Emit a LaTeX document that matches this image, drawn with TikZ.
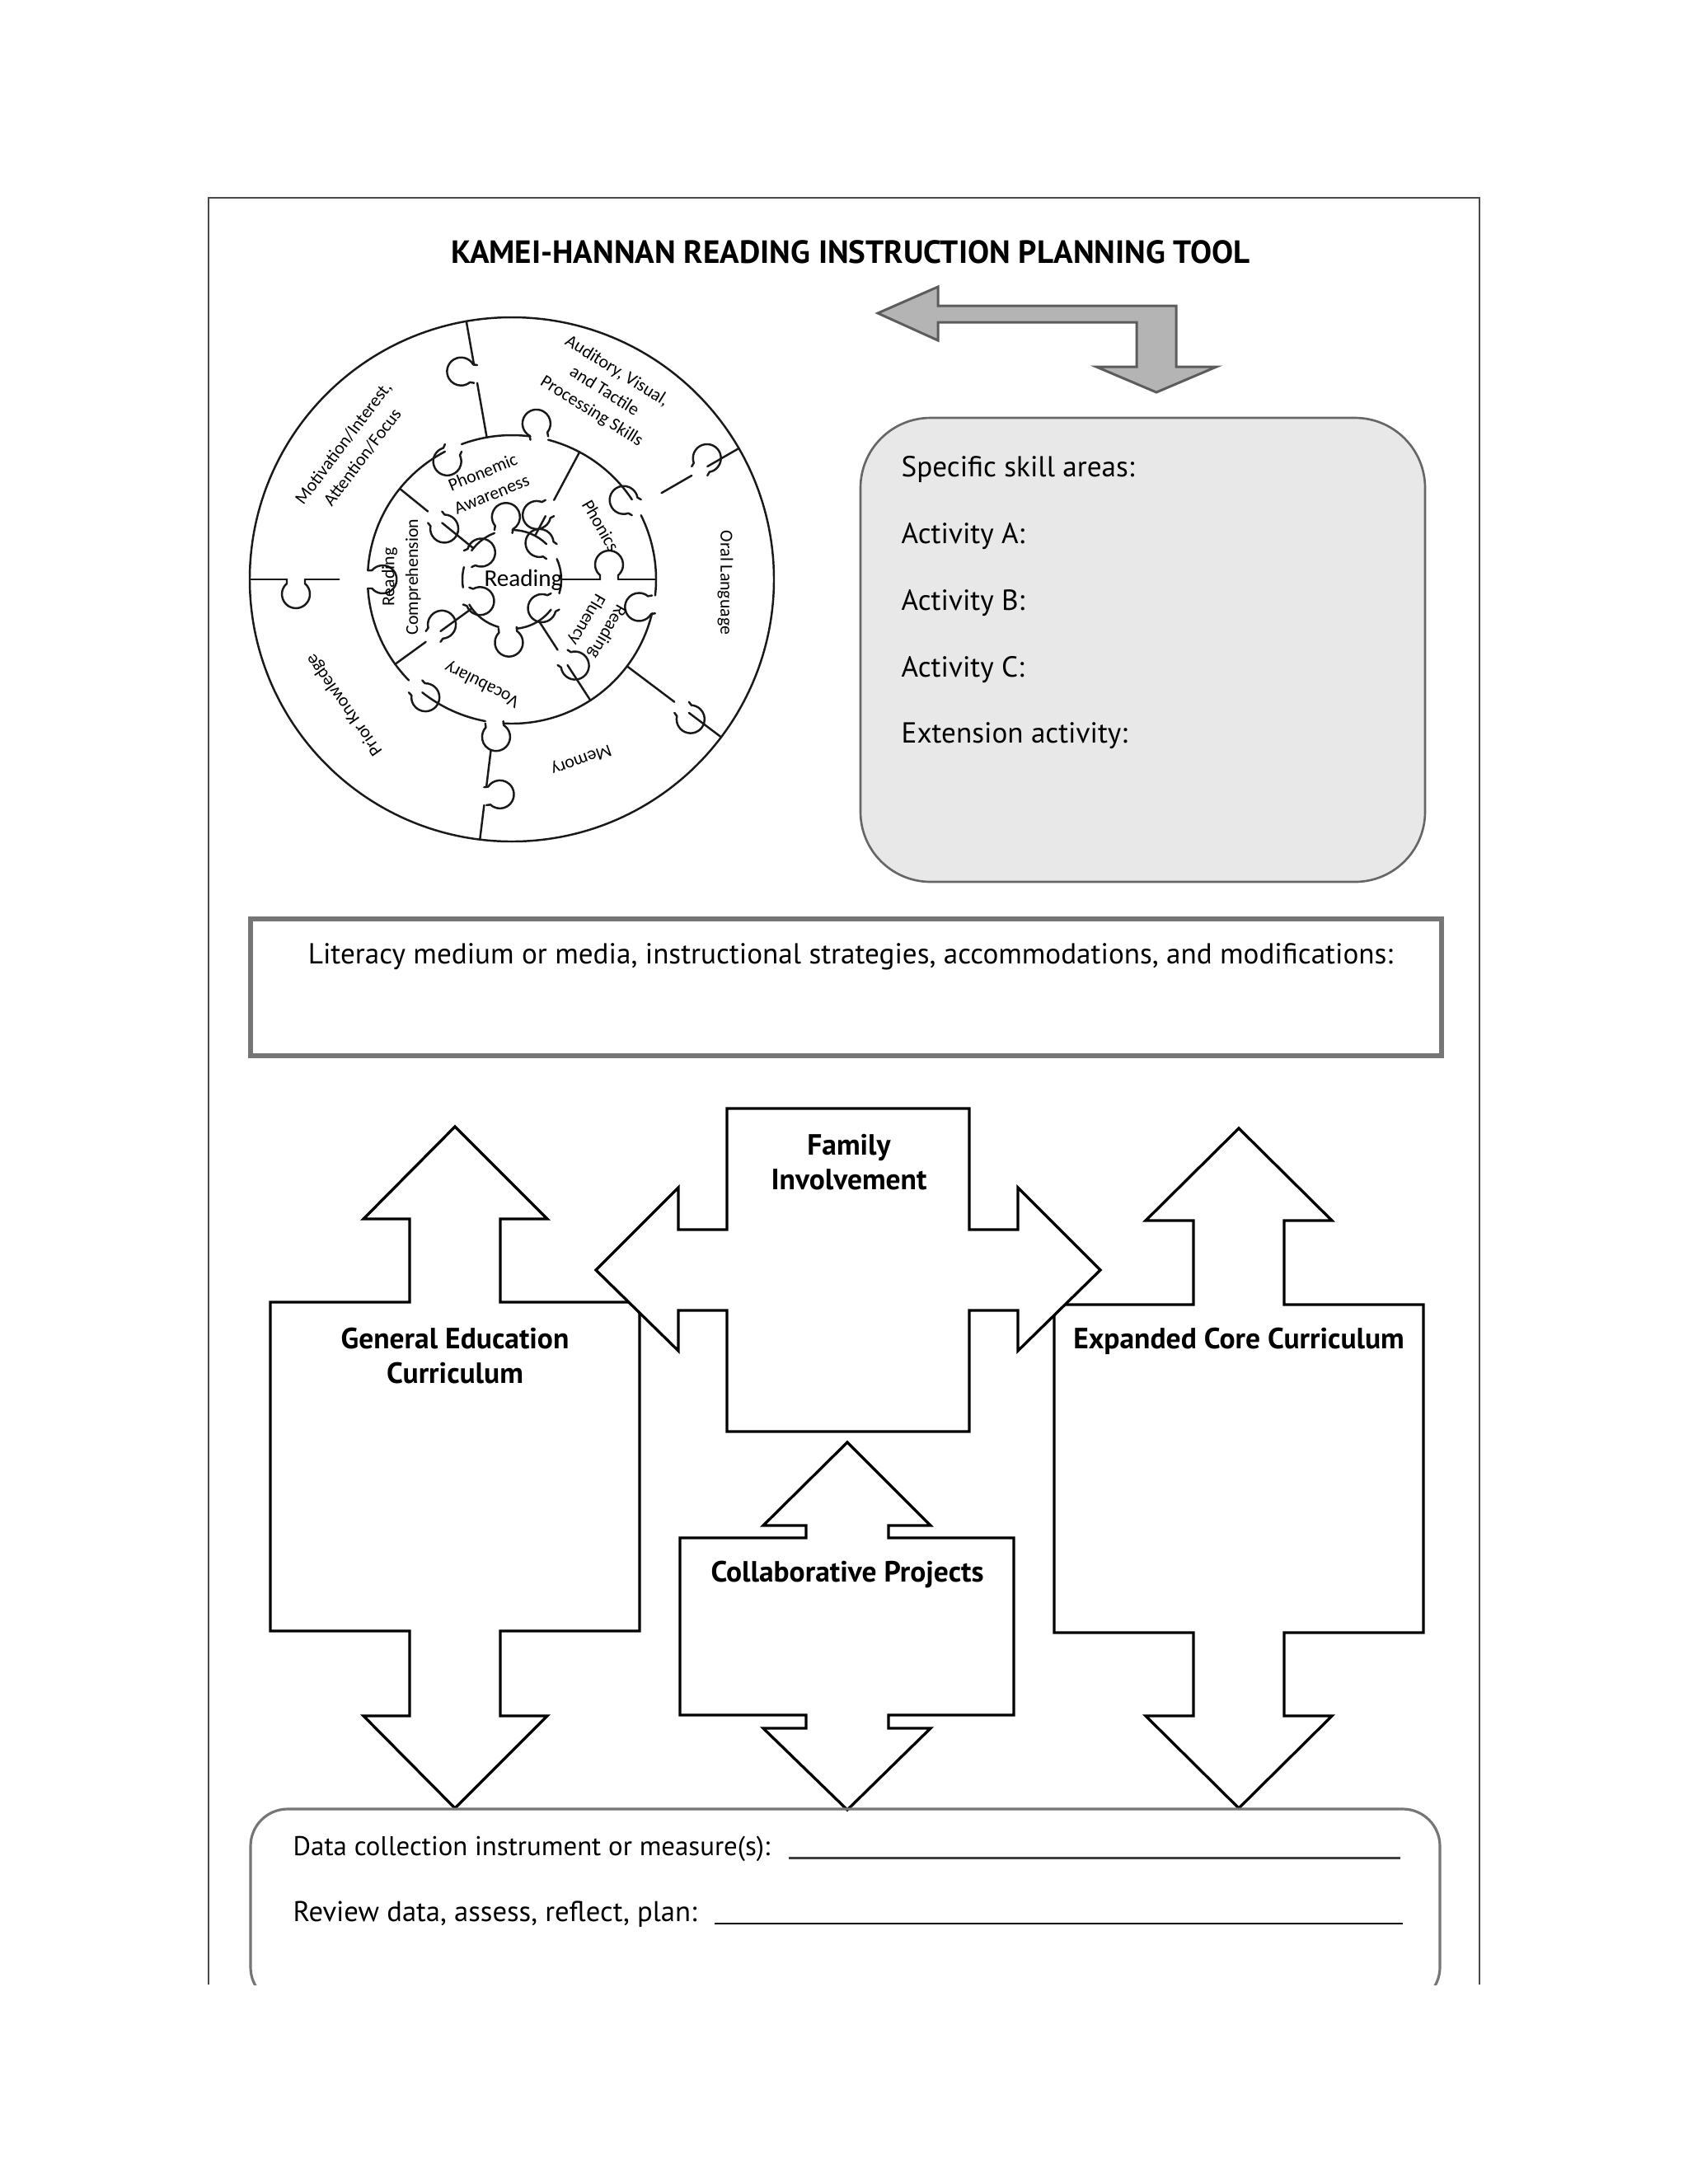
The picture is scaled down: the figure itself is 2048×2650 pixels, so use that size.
\documentclass[tikz,border=0pt]{standalone}
\usepackage{fontspec}
\setmainfont{PT Sans}
\newfontfamily\pzfont{Carlito}
\definecolor{arrowgray}{HTML}{B4B4B4}
\definecolor{arrowedge}{HTML}{5C5C5C}
\definecolor{boxgray}{HTML}{E8E8E8}
\definecolor{boxedge}{HTML}{666666}
\definecolor{litedge}{HTML}{767676}
\definecolor{frameedge}{HTML}{4A4A4A}
\newcommand\pknob[3]{\draw[pz,shift={#1},rotate={#2},yscale=#3] (-11,0) -- (-11,5) arc[start angle=229.7,end angle=-49.7,radius=17] -- (11,0);}
\newcommand\psep[5]{%
  \draw[pz] (#1:#2) -- (#1:{#4-11});
  \pknob{(#1:#4)}{#1}{#5}
  \draw[pz] (#1:{#4+11}) -- (#1:#3);}
\begin{document}
\begin{tikzpicture}[x=0.01cm,y=-0.01cm,
  shp/.style={draw=black,line width=0.95pt,fill=white,line join=miter},
  pz/.style={draw=black!90,line width=0.7pt,line cap=round,line join=round},
  pzl/.style={font=\pzfont\fontsize{6.2}{8.2}\selectfont,align=center,inner sep=0pt},
  bodytxt/.style={font=\fontsize{10}{12}\selectfont,inner sep=0pt},
  lbl/.style={font=\bfseries\fontsize{10.1}{12}\selectfont,align=center,inner sep=0pt}]
\fill[white] (0,0) rectangle (2048,2650);
\useasboundingbox (0,0) rectangle (2048,2650);

% page frame
\draw[frameedge,line width=0.5pt] (253,2408) -- (253,240) -- (1795,240) -- (1795,2408);

% title
\node[font=\bfseries\fontsize{11.1}{13}\selectfont,inner sep=0pt] (title) at (1032,306) {KAMEI-HANNAN READING INSTRUCTION PLANNING TOOL};

% gray bent arrow
\draw[fill=arrowgray,draw=arrowedge,line width=0.85pt,line join=miter]
  (1065,380) -- (1138,348) -- (1138,371) -- (1427,371) -- (1427,445) -- (1476,445)
  -- (1403,476) -- (1330,445) -- (1379,445) -- (1379,391) -- (1138,391) -- (1138,413) -- cycle;

% skill box
\draw[fill=boxgray,draw=boxedge,line width=0.75pt,rounded corners=0.85cm] (1044,507) rectangle (1729,1070);
\node[bodytxt,anchor=base west] (skill) at (1093,578) {Specific skill areas:};
\node[bodytxt,anchor=base west] (actA) at (1093,659) {Activity A:};
\node[bodytxt,anchor=base west] (actB) at (1093,740) {Activity B:};
\node[bodytxt,anchor=base west] (actC) at (1093,821) {Activity C:};
\node[bodytxt,anchor=base west] (ext) at (1093,901) {Extension activity:};

% literacy box
\draw[draw=litedge,line width=1.9pt] (304,1115) rectangle (1749,1281);
\node[bodytxt,anchor=base] (lit) at (1032,1169) {Literacy medium or media, instructional strategies, accommodations, and modifications:};

% puzzle
\begin{scope}[shift={(621,703)},yscale=-1]
  \draw[pz] (0,0) circle[radius=318];
  % middle ring outer boundary
  \foreach \s/\e in {33.6/75.4, 82.6/110.4, 117.6/176.4, 183.6/224.4, 231.6/259.4, 266.6/346.4, 353.6/386.4}
    \draw[pz] (\s:175) arc[start angle=\s, end angle=\e, radius=175];
  \pknob{(30:174.65)}{-60}{1}
  \pknob{(79:174.65)}{-11}{1}
  \pknob{(114:174.65)}{24}{-1}
  \pknob{(180:174.65)}{90}{1}
  \pknob{(228:174.65)}{138}{1}
  \pknob{(263:174.65)}{173}{1}
  \pknob{(350:174.65)}{260}{1}
  % central piece
  \foreach \s/\e in {45.57/89.43, 110.57/144.43, 165.57/189.43, 210.57/254.43, 275.57/322.43, 343.57/384.43}
    \draw[pz] (\s:60) arc[start angle=\s, end angle=\e, radius=60];
  \pknob{(35:58.98)}{-55}{1}
  \pknob{(100:58.98)}{10}{1}
  \pknob{(155:58.98)}{65}{1}
  \pknob{(200:58.98)}{110}{1}
  \pknob{(265:58.98)}{175}{1}
  \pknob{(333:58.98)}{243}{1}
  % middle ring separators
  \psep{141}{60}{175}{120}{1}
  \psep{62}{60}{175}{98}{-1}
  \psep{0}{60}{175}{118}{1}
  \psep{303}{60}{175}{113}{-1}
  \psep{216}{60}{175}{118}{-1}
  % outer ring separators
  \psep{100}{175}{318}{253}{-1}
  \psep{30}{209.65}{318}{263}{1}
  \psep{323}{175}{318}{258}{-1}
  \psep{263}{209.65}{318}{265}{-1}
  \psep{180}{209.65}{318}{262}{1}
\end{scope}
\node[pzl,rotate=53] (motiv) at (428,546) {Motivation/Interest,\\Attention/Focus};
\node[pzl,rotate=-32] (audit) at (733,475) {Auditory, Visual,\\and Tactile\\Processing Skills};
\node[pzl,rotate=-90] (oral) at (880,707) {Oral Language};
\node[pzl,rotate=-160] (memory) at (705,921) {Memory};
\node[pzl,rotate=125] (prior) at (418,855) {Prior Knowledge};
\node[pzl,rotate=22] (phonaw) at (591,586) {Phonemic\\Awareness};
\node[pzl,rotate=-60] (phonics) at (729,638) {Phonics};
\node[pzl,rotate=-120] (fluency) at (724,759) {Reading\\Fluency};
\node[pzl,rotate=153] (vocab) at (585,830) {Vocabulary};
\node[pzl,rotate=90] (comp) at (487,700) {Reading\\Comprehension};
\node[font=\pzfont\fontsize{8.3}{10}\selectfont,inner sep=0pt] (reading) at (635,704) {Reading};

% lower shapes
\draw[shp] (552,1367) -- (664,1479) -- (607,1479) -- (607,1580) -- (776,1580) -- (776,1979)
  -- (607,1979) -- (607,2082) -- (664,2082) -- (552,2194) -- (441,2082) -- (497,2082)
  -- (497,1979) -- (328,1979) -- (328,1580) -- (497,1580) -- (497,1479) -- (441,1479) -- cycle;
\draw[shp] (1503,1369) -- (1616,1481) -- (1558,1481) -- (1558,1583) -- (1727,1583) -- (1727,1981)
  -- (1558,1981) -- (1558,2082) -- (1616,2082) -- (1503,2194) -- (1390,2082) -- (1448,2082)
  -- (1448,1981) -- (1279,1981) -- (1279,1583) -- (1448,1583) -- (1448,1481) -- (1390,1481) -- cycle;
\draw[shp] (882,1345) -- (1176,1345) -- (1176,1492) -- (1235,1492) -- (1235,1441) -- (1335,1541)
  -- (1235,1639) -- (1235,1590) -- (1176,1590) -- (1176,1737) -- (882,1737) -- (882,1590)
  -- (823,1590) -- (823,1639) -- (723,1541) -- (823,1441) -- (823,1492) -- (882,1492) -- cycle;
\draw[shp] (1028,1750) -- (1129,1851) -- (1078,1851) -- (1078,1866) -- (1230,1866) -- (1230,2081)
  -- (1078,2081) -- (1078,2097) -- (1129,2097) -- (1028,2196) -- (926,2097) -- (978,2097)
  -- (978,2081) -- (825,2081) -- (825,1866) -- (978,1866) -- (978,1851) -- (926,1851) -- cycle;
\node[lbl] (family) at (1030,1410) {Family\\Involvement};
\node[lbl] (gened) at (552,1645) {General Education\\Curriculum};
\node[lbl] (ecc) at (1503,1627) {Expanded Core Curriculum};
\node[lbl] (collab) at (1028,1910) {Collaborative Projects};

% bottom box
\begin{scope}
  \clip (0,0) rectangle (2048,2408);
  \draw[draw=litedge,line width=0.9pt,rounded corners=0.45cm] (304,2195) rectangle (1747,2432);
\end{scope}
\node[font=\fontsize{9.35}{12}\selectfont,inner sep=0pt,anchor=base west] (data) at (355,2251) {Data collection instrument or measure(s):};
\node[font=\fontsize{9.85}{12}\selectfont,inner sep=0pt,anchor=base west] (review) at (355,2331) {Review data, assess, reflect, plan:};
\draw[black!75,line width=0.85pt] (957,2254) -- (1699,2254);
\draw[black,line width=0.6pt] (867,2334) -- (1702,2334);
\end{tikzpicture}
\end{document}
